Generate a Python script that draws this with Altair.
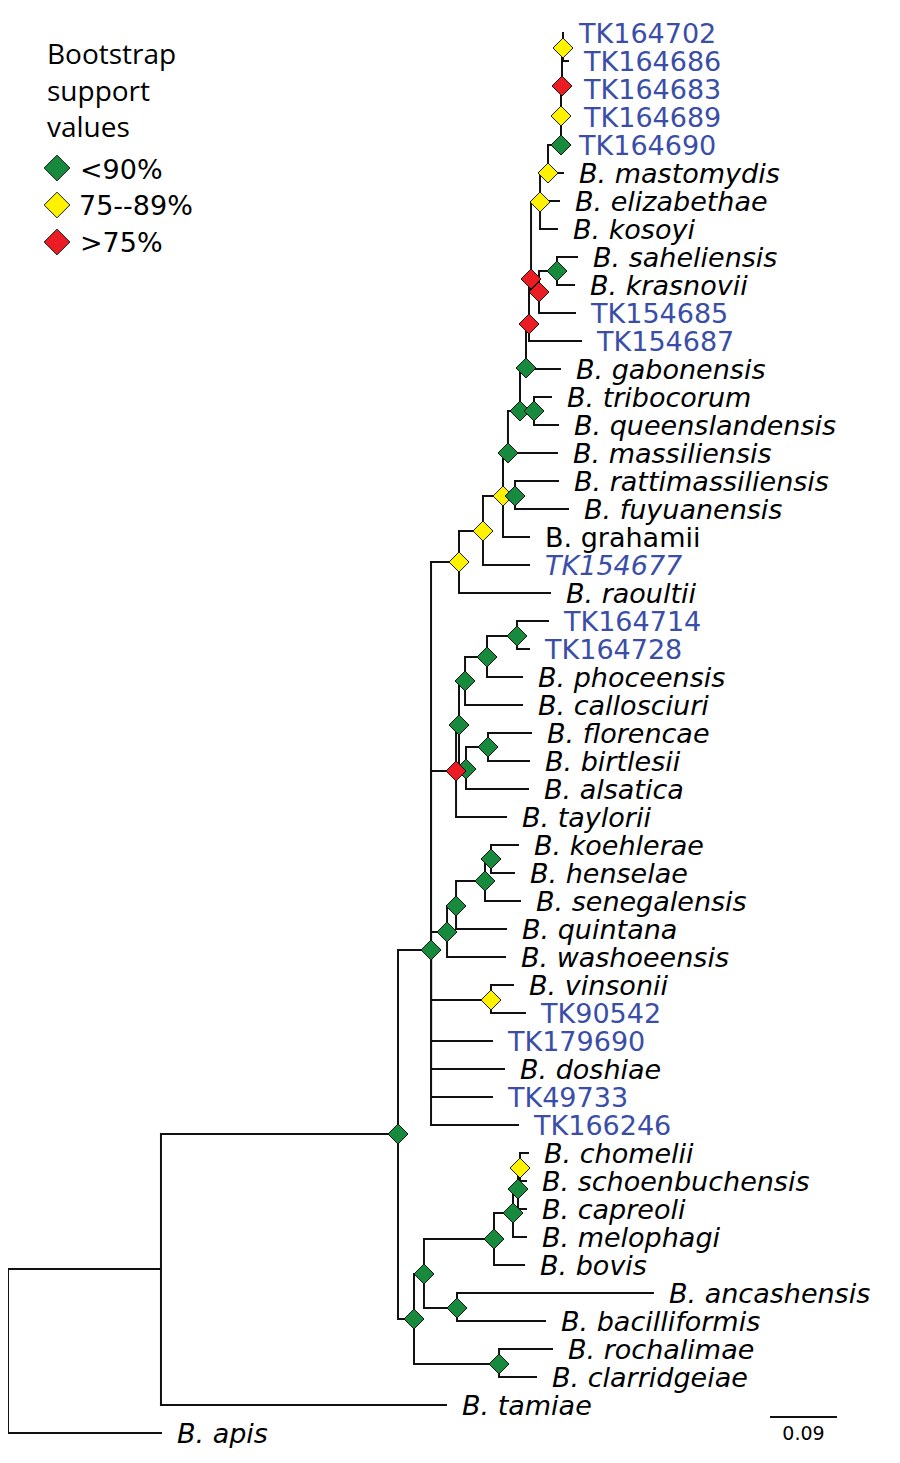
import altair as alt
import pandas as pd

# ---------------- data: leaves (top to bottom) ----------------
leaf_labels = [
    "TK164702", "TK164686", "TK164683", "TK164689", "TK164690",
    "B. mastomydis", "B. elizabethae", "B. kosoyi", "B. saheliensis", "B. krasnovii",
    "TK154685", "TK154687", "B. gabonensis", "B. tribocorum", "B. queenslandensis",
    "B. massiliensis", "B. rattimassiliensis", "B. fuyuanensis", "B. grahamii", "TK154677",
    "B. raoultii", "TK164714", "TK164728", "B. phoceensis", "B. callosciuri",
    "B. florencae", "B. birtlesii", "B. alsatica", "B. taylorii", "B. koehlerae",
    "B. henselae", "B. senegalensis", "B. quintana", "B. washoeensis", "B. vinsonii",
    "TK90542", "TK179690", "B. doshiae", "TK49733", "TK166246",
    "B. chomelii", "B. schoenbuchensis", "B. capreoli", "B. melophagi", "B. bovis",
    "B. ancashensis", "B. bacilliformis", "B. rochalimae", "B. clarridgeiae", "B. tamiae",
    "B. apis",
]
leaf_style = [
    "blue", "blue", "blue", "blue", "blue",
    "italic", "italic", "italic", "italic", "italic",
    "blue", "blue", "italic", "italic", "italic",
    "italic", "italic", "italic", "upright", "blue_italic",
    "italic", "blue", "blue", "italic", "italic",
    "italic", "italic", "italic", "italic", "italic",
    "italic", "italic", "italic", "italic", "italic",
    "blue", "blue", "italic", "blue", "blue",
    "italic", "italic", "italic", "italic", "italic",
    "italic", "italic", "italic", "italic", "italic",
    "italic",
]
leaf_parent = [
    "T1", "T1", "T2", "T3", "G0",
    "Y", "Q", "Q", "SK", "SK",
    "S1", "R2", "GA", "TQ", "TQ",
    "K", "L", "L", "J", "I",
    "E", "F6", "F6", "F5", "F4",
    "F3", "F3", "F2", "F", "G3",
    "G3", "G2", "G1", "G", "H",
    "H", "C", "C", "C", "C",
    "D7", "D7", "D6", "D5", "D3",
    "D4", "D4", "D2", "D2", "A",
    "R",
]
# distance from root (substitutions/site)
leaf_depth = [
    0.7460, 0.7527, 0.7527, 0.7527, 0.7460,
    0.7460, 0.7406, 0.7379, 0.7648, 0.7608,
    0.7621, 0.7702, 0.7419, 0.7298, 0.7393,
    0.7379, 0.7393, 0.7527, 0.7003, 0.7003,
    0.7285, 0.7258, 0.7003, 0.6909, 0.6909,
    0.7030, 0.7003, 0.6989, 0.6694, 0.6855,
    0.6801, 0.6882, 0.6694, 0.6680, 0.6788,
    0.6949, 0.6505, 0.6667, 0.6505, 0.6855,
    0.6989, 0.6962, 0.6962, 0.6962, 0.6936,
    0.8669, 0.7218, 0.7312, 0.7097, 0.5887,
    0.2056,
]

# ---------------- data: internal nodes ----------------
node_ids = ["R", "A", "B", "C", "D", "E", "I", "J", "K", "L", "M", "TQ", "GA", "R2", "R1",
            "S1", "SK", "Q", "Y", "G0", "T3", "T2", "T1", "F1", "F4", "F5", "F6", "F2",
            "F3", "F", "G", "G1", "G2", "G3", "H", "D1", "D2", "D3", "D4", "D5", "D6", "D7"]
node_parent = [None, "R", "A", "B", "B", "C", "E", "I", "J", "J", "K", "M", "M", "GA", "R2",
               "R1", "S1", "R1", "Q", "Y", "G0", "T3", "T2", "F", "F1", "F4", "F5", "F1",
               "F2", "C", "C", "G", "G1", "G2", "C", "D", "D", "D1", "D1", "D3", "D5", "D6"]
node_depth = [0.0, 0.2056, 0.5242, 0.5686, 0.5457, 0.6062, 0.6384, 0.6653, 0.6720, 0.6815,
              0.6882, 0.7070, 0.6962, 0.7003, 0.7030, 0.7137, 0.7379, 0.7151, 0.7258, 0.7433,
              0.7433, 0.7446, 0.7460, 0.6062, 0.6143, 0.6438, 0.6841, 0.6156, 0.6452, 0.6022,
              0.5901, 0.6022, 0.6411, 0.6492, 0.6492, 0.5591, 0.6600, 0.6532, 0.6035, 0.6788,
              0.6855, 0.6882]
node_row = [47.107, 44.143, 39.321, 32.75, 45.929, 18.893, 17.786, 16.536, 15.0, 16.536,
            13.5, 13.5, 11.964, 10.393, 8.786, 9.25, 8.5, 6.036, 5.0, 4.0,
            2.964, 1.893, 0.536, 24.714, 23.143, 22.286, 21.536, 26.286, 25.5, 26.357,
            32.107, 31.179, 30.286, 29.5, 34.536, 44.321, 47.536, 43.071, 45.536, 42.143,
            41.286, 40.536]
node_support = ["", "", "<90%", "<90%", "<90%", "75--89%", "75--89%", "75--89%", "<90%", "<90%",
                "<90%", "<90%", "<90%", ">75%", ">75%", ">75%", "<90%", "75--89%", "75--89%", "<90%",
                "75--89%", ">75%", "75--89%", "<90%", "<90%", "<90%", "<90%", "<90%", "<90%", ">75%",
                "<90%", "<90%", "<90%", "<90%", "75--89%", "<90%", "<90%", "<90%", "<90%", "<90%",
                "<90%", "75--89%"]

support_classes = ["<90%", "75--89%", ">75%"]
support_colors = ["#178a3e", "#fff200", "#ec1c24"]
legend_title = ["Bootstrap", "support", "values"]
scale_bar_value = 0.09
scale_bar_label = "0.09"

# ---------------- layout ----------------
W, H = 880, 1440
PX_PER_UNIT = 744.0
ROW_PX = 28.0
ROW0_PX = 25.0
xs = alt.Scale(domain=[0, W / PX_PER_UNIT], nice=False, zero=False)
ys = alt.Scale(domain=[-ROW0_PX / ROW_PX, (H - ROW0_PX) / ROW_PX], nice=False, zero=False, reverse=True)

LINE = "#111111"
BLUE = "#3a4ea8"
FONT = "DejaVu Sans"

pos = {}
for i, n in enumerate(node_ids):
    pos[n] = (node_depth[i], node_row[i])
for i, n in enumerate(leaf_labels):
    pos[n] = (leaf_depth[i], float(i))

segs = []
for c, p in list(zip(node_ids, node_parent)) + list(zip(leaf_labels, leaf_parent)):
    if p is None:
        continue
    cx, cy = pos[c]
    px_, py_ = pos[p]
    segs.append(dict(x=px_, x2=cx, y=cy, y2=cy))
    segs.append(dict(x=px_, x2=px_, y=py_, y2=cy))
seg_df = pd.DataFrame(segs)

nodes_df = pd.DataFrame({"id": node_ids, "x": node_depth, "y": node_row, "support": node_support})
nodes_df = nodes_df[nodes_df["support"] != ""]

leaves_df = pd.DataFrame({"label": leaf_labels, "x": leaf_depth,
                          "y": [float(i) for i in range(len(leaf_labels))], "style": leaf_style})

branches = alt.Chart(seg_df).mark_rule(color=LINE, strokeWidth=2, strokeCap="square").encode(
    x=alt.X("x:Q", scale=xs, axis=None), x2="x2:Q",
    y=alt.Y("y:Q", scale=ys, axis=None), y2="y2:Q",
)

diamonds = alt.Chart(nodes_df).mark_point(
    shape="diamond", filled=True, size=400, stroke="black", strokeWidth=0.9, opacity=1
).encode(
    x=alt.X("x:Q", scale=xs, axis=None),
    y=alt.Y("y:Q", scale=ys, axis=None),
    fill=alt.Fill("support:N", scale=alt.Scale(domain=support_classes, range=support_colors), legend=None),
)

styles = {
    "italic": ("italic", "black"),
    "upright": ("normal", "black"),
    "blue": ("normal", BLUE),
    "blue_italic": ("italic", BLUE),
}
label_layers = []
for st, (fs, col) in styles.items():
    label_layers.append(
        alt.Chart(leaves_df).transform_filter(alt.datum.style == st).mark_text(
            align="left", baseline="alphabetic", dx=16, dy=10, font=FONT, fontSize=27,
            fontStyle=fs, color=col
        ).encode(
            x=alt.X("x:Q", scale=xs, axis=None),
            y=alt.Y("y:Q", scale=ys, axis=None),
            text="label:N",
        )
    )

# legend
title_df = pd.DataFrame({"t": legend_title, "px": [39, 39, 39], "py": [56, 92.5, 129]})
legend_title_layer = alt.Chart(title_df).mark_text(
    align="left", baseline="alphabetic", font="Open Sans", fontSize=28, color="black"
).encode(x=alt.X("px:Q", scale=None), y=alt.Y("py:Q", scale=None), text="t:N")

leg_df = pd.DataFrame({"support": support_classes, "px": [49, 49, 49], "py": [160, 197, 234],
                       "tx": [72, 71, 72], "ty": [171, 207, 244]})
legend_marks = alt.Chart(leg_df).mark_point(
    shape="diamond", filled=True, size=660, stroke="black", strokeWidth=0.9, opacity=1
).encode(
    x=alt.X("px:Q", scale=None), y=alt.Y("py:Q", scale=None),
    fill=alt.Fill("support:N", scale=alt.Scale(domain=support_classes, range=support_colors), legend=None),
)
legend_text = alt.Chart(leg_df).mark_text(
    align="left", baseline="alphabetic", font=FONT, fontSize=27, color="black"
).encode(x=alt.X("tx:Q", scale=None), y=alt.Y("ty:Q", scale=None), text="support:N")

# scale bar
bar_start = 1.0242
bar_row = 49.43
bar_df = pd.DataFrame({"x": [bar_start], "x2": [bar_start + scale_bar_value], "y": [bar_row],
                       "xm": [bar_start + scale_bar_value / 2], "label": [scale_bar_label]})
bar = alt.Chart(bar_df).mark_rule(color=LINE, strokeWidth=2).encode(
    x=alt.X("x:Q", scale=xs, axis=None), x2="x2:Q", y=alt.Y("y:Q", scale=ys, axis=None)
)
bar_text = alt.Chart(bar_df).mark_text(
    align="center", baseline="alphabetic", dy=23, font=FONT, fontSize=19, color="black"
).encode(x=alt.X("xm:Q", scale=xs, axis=None), y=alt.Y("y:Q", scale=ys, axis=None), text="label:N")

chart = alt.layer(
    branches, diamonds, *label_layers, legend_title_layer, legend_marks, legend_text, bar, bar_text
).properties(
    width=W, height=H, padding=0, autosize=alt.AutoSizeParams(type="none")
).configure_view(strokeWidth=0)

chart.save("out.html", embed_options={"renderer": "svg", "actions": False})
